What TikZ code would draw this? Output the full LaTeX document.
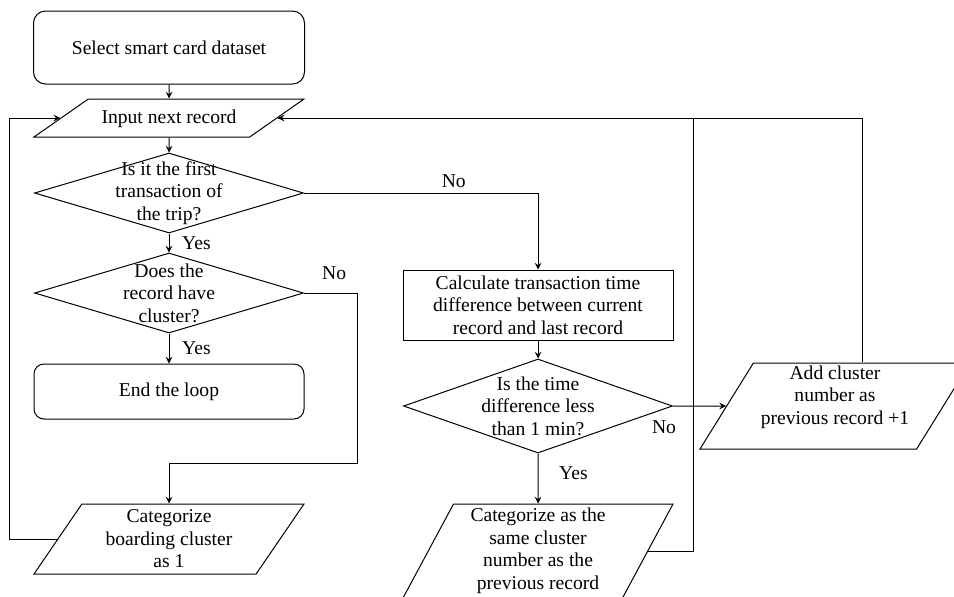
\documentclass[tikz,border=0pt]{standalone}
\usepackage{fontspec}
\setmainfont{Liberation Serif}
\usepackage{tikz}
\usetikzlibrary{arrows,shapes}
\tikzstyle{start} = [rectangle, rounded corners=6pt, minimum width=135.5pt, minimum height=36.5pt, align=center, draw=black]
\tikzstyle{stop} = [rectangle, rounded corners=5pt, minimum width=135pt, minimum height=27.5pt, align=center, draw=black]
\tikzstyle{io} = [trapezium, trapezium stretches body=true, minimum width=135pt, inner sep=1pt, align=center, draw=black]
\tikzstyle{process} = [rectangle, minimum width=135pt, minimum height=35pt, inner sep=1pt, align=center, draw=black]
\tikzstyle{decision} = [diamond, minimum width=134.5pt, minimum height=40pt, inner sep=0pt, draw=black]
\tikzstyle{arrow} = [->,>=stealth]

\begin{document}
\begin{tikzpicture}[node distance=50pt, line width=0.5pt, font=\fontsize{9.8}{11.25}\selectfont]
\clip (0,0) rectangle (477pt,-298pt);
\node (sel)    [start] at (84.5pt,-23.75pt) {Select smart card dataset};
\node (inRec)  [io, below of=sel, yshift=14.75pt, trapezium left angle=35, trapezium right angle=145, text height=7pt, text depth=2pt, inner ysep=5pt] {Input next record};
\node (firstT) [decision, below of=inRec, yshift=12.5pt, label={[align=center]center:Is it the first\\transaction of\\the trip?}] {};
\node (hasC)   [decision, below of=firstT, label={[align=center]center:Does the\\record have\\cluster?}] {};
\node (endL)   [stop, below of=hasC, yshift=.75pt] {End the loop};
\node (catB)   [io, below of=endL, yshift=-23.75pt, trapezium left angle=52.4, trapezium right angle=127.6, minimum height=35pt] {Categorize\\boarding cluster\\as 1};
\node (calcT)  [process, right of=firstT, xshift=134.5pt, yshift=-56pt] {Calculate transaction time\\difference between current\\record and last record};
\node (diffT)  [decision, below of=calcT, yshift=-.5pt, minimum height=47pt, label={[align=center]center:Is the time\\difference less\\than 1 min?}] {};
\node (sameC)  [io, below of=diffT, yshift=-22.5pt, trapezium left angle=60.5, trapezium right angle=119.5, minimum height=47pt] {Categorize as the\\same cluster\\number as the\\previous record};
\node (addC)   [io, right of=diffT, xshift=98.5pt, trapezium left angle=57.9, trapezium right angle=122.1, minimum height=43pt] {Add cluster\\number as\\previous record +1\\~};

\draw [arrow] (sel) -- (inRec);
\draw [arrow] (inRec) -- (firstT);
\draw [arrow] (firstT) -- node[right, xshift=3pt] {Yes} (hasC);
\draw [arrow] (hasC) -- node[right, xshift=3pt] {Yes} (endL);
\draw [arrow] (hasC.east) -- node[above, pos=.57, yshift=3pt] {No} ++(26.5pt,0) -- ++(0,-85pt) -| (catB.north);
\draw [arrow] (catB.west) -- ++(-24pt,0) |- (inRec.west);
\draw [arrow] (firstT.east) -| node[above, pos=.32, yshift=-1pt] {No} (calcT.north);
\draw [arrow] (calcT) -- (diffT);
\draw [arrow] (diffT) -- node[right, pos=.4, xshift=7pt] {Yes} (sameC);
\draw [arrow] (diffT.east) -- node[below, pos=0, xshift=-4.5pt, yshift=-3.5pt] {No} (addC.west);
\draw [arrow] (sameC.east) -- ++(22.75pt,0) |- (inRec.east);
\draw ([xshift=13.5pt]addC.north) |- (inRec.east);
\end{tikzpicture}
\end{document}
